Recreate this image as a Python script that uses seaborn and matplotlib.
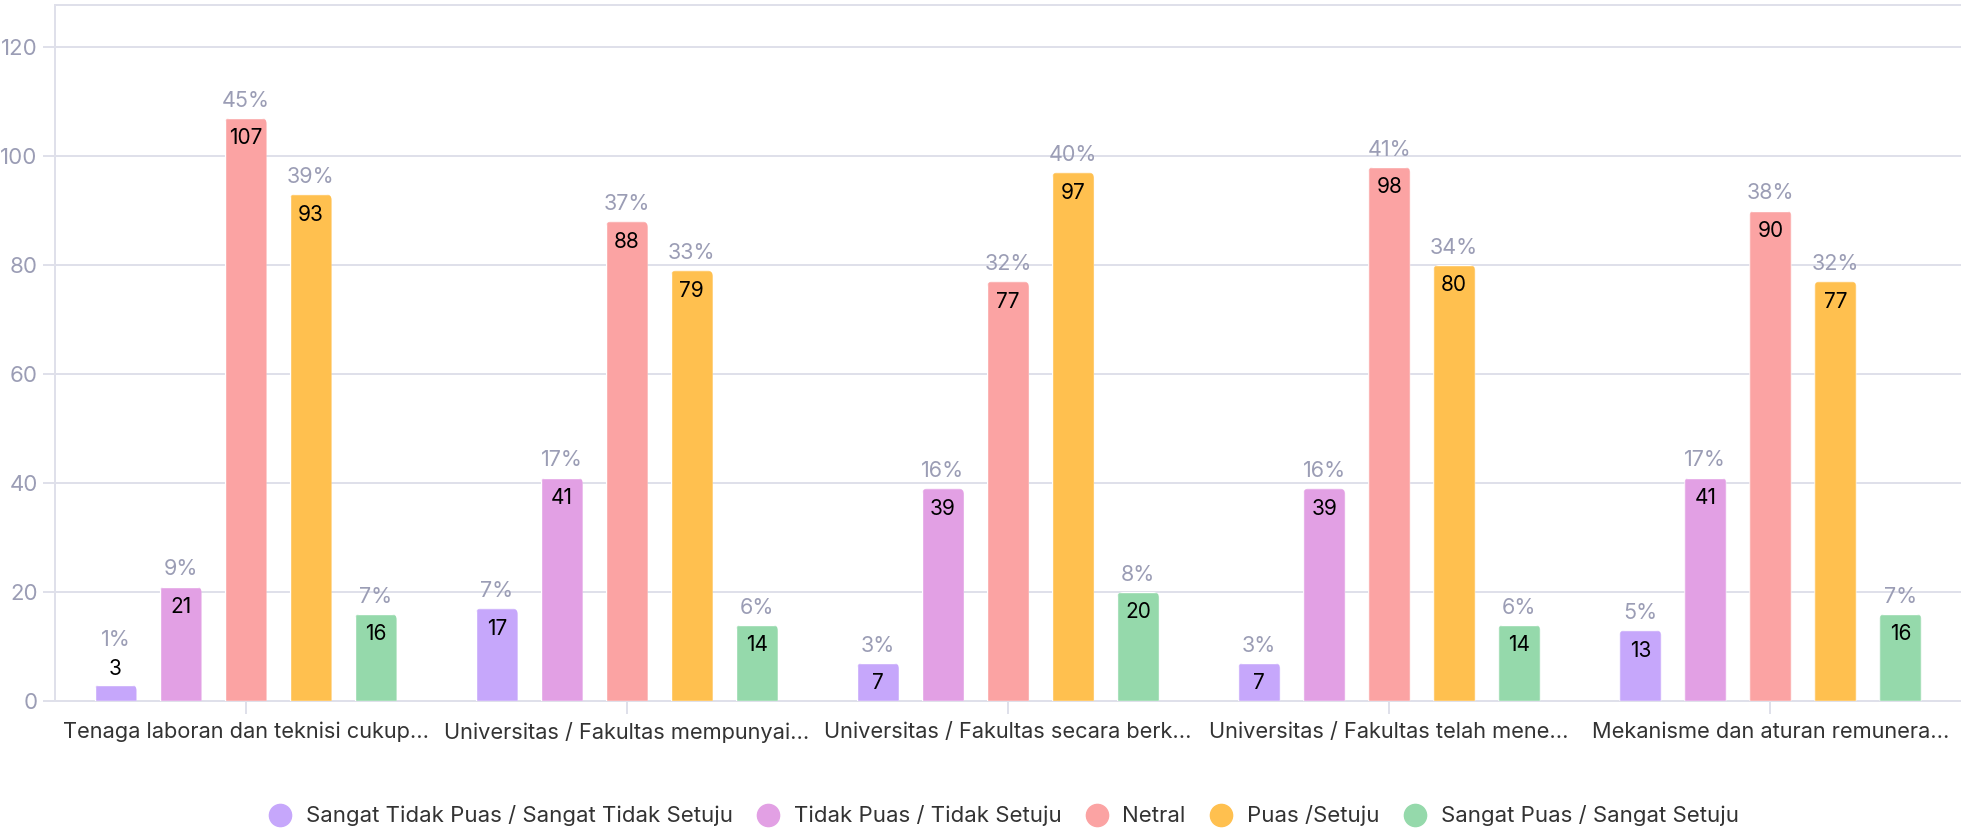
import matplotlib
matplotlib.use("Agg")
import matplotlib.pyplot as plt
from matplotlib.patches import FancyBboxPatch
from matplotlib.lines import Line2D
import seaborn as sns
import pandas as pd

categories = [
    "Tenaga laboran dan teknisi cukup...",
    "Universitas / Fakultas mempunyai...",
    "Universitas / Fakultas secara berk...",
    "Universitas / Fakultas telah mene...",
    "Mekanisme dan aturan remunera...",
]
responses = [
    "Sangat Tidak Puas / Sangat Tidak Setuju",
    "Tidak Puas / Tidak Setuju",
    "Netral",
    "Puas /Setuju",
    "Sangat Puas / Sangat Setuju",
]
sangat_tidak_puas = [3, 17, 7, 7, 13]
tidak_puas = [21, 41, 39, 39, 41]
netral = [107, 88, 77, 98, 90]
puas = [93, 79, 97, 80, 77]
sangat_puas = [16, 14, 20, 14, 16]

pct_sangat_tidak_puas = ["1%", "7%", "3%", "3%", "5%"]
pct_tidak_puas = ["9%", "17%", "16%", "16%", "17%"]
pct_netral = ["45%", "37%", "32%", "41%", "38%"]
pct_puas = ["39%", "33%", "40%", "34%", "32%"]
pct_sangat_puas = ["7%", "6%", "8%", "6%", "7%"]

colors = ["#c6a7fb", "#e2a0e4", "#fba3a3", "#ffc04f", "#95d9ab"]

series = [sangat_tidak_puas, tidak_puas, netral, puas, sangat_puas]
pcts = [pct_sangat_tidak_puas, pct_tidak_puas, pct_netral, pct_puas, pct_sangat_puas]

rows = []
for r, vals in zip(responses, series):
    for c, v in zip(categories, vals):
        rows.append({"cat": c, "resp": r, "count": v})
df = pd.DataFrame(rows)

sns.set_theme(style="white")
plt.rcParams["font.family"] = ["Inter", "DejaVu Sans"]

GRID = "#dfe0ea"
TICKC = "#9b9db5"

fig = plt.figure(figsize=(19.61, 8.33), dpi=100)
ax = fig.add_axes([55 / 1961, 1 - 701 / 833, 1 - 55 / 1961, (701 - 4.5) / 833])

sns.barplot(data=df, x="cat", y="count", hue="resp", hue_order=responses,
            order=categories, palette=colors, width=0.853, gap=0.354,
            saturation=1, legend=False, ax=ax, zorder=3)

ax.set_xlim(-0.5, 4.5)
ax.set_ylim(0, 127.8)
ax.set_yticks([0, 20, 40, 60, 80, 100, 120])
ax.set_xlabel("")
ax.set_ylabel("")

ax.grid(axis="y", color=GRID, lw=1.4, zorder=0)
ax.grid(axis="x", visible=False)
for s in ["left", "top", "bottom"]:
    ax.spines[s].set_color(GRID)
    ax.spines[s].set_linewidth(1.4)
ax.spines["right"].set_visible(False)

ax.tick_params(axis="y", colors=GRID, labelcolor=TICKC, labelsize=16,
               length=9, width=1.4, pad=3.5, left=True)
ax.tick_params(axis="x", colors=GRID, labelcolor="#333333", labelsize=15.7,
               length=9, width=1.4, pad=6, bottom=True)

# rounded top corners
px_x = 1 / 381.25
px_y = 127.8 / 696.5
r = 6 * px_x
asp = px_y / px_x
for bar in ax.patches:
    x, y = bar.get_x(), bar.get_y()
    w, h = bar.get_width(), bar.get_height()
    clip = FancyBboxPatch((x, y - 5), w, h + 5,
                          boxstyle=f"round,pad=0,rounding_size={r}",
                          mutation_aspect=asp, transform=ax.transData,
                          facecolor="none", edgecolor="none")
    bar.set_clip_path(clip)

# labels
for cont, vals, pc in zip(ax.containers, series, pcts):
    for bar, v, p in zip(cont, vals, pc):
        cx = bar.get_x() + bar.get_width() / 2
        h = bar.get_height()
        if v >= 5:
            ax.annotate(str(v), (cx, h), xytext=(0, -19), textcoords="offset points",
                        ha="center", va="baseline", fontsize=15, color="black", zorder=5)
            ax.annotate(p, (cx, h), xytext=(0, 8), textcoords="offset points",
                        ha="center", va="baseline", fontsize=15.5, color=TICKC, zorder=5)
        else:
            ax.annotate(str(v), (cx, h), xytext=(0, 7), textcoords="offset points",
                        ha="center", va="baseline", fontsize=15, color="black", zorder=5)
            ax.annotate(p, (cx, h), xytext=(0, 28), textcoords="offset points",
                        ha="center", va="baseline", fontsize=15.5, color=TICKC, zorder=5)

handles = [Line2D([], [], marker="o", ls="", markersize=16, color=c) for c in colors]
fig.legend(handles, responses, loc="center", bbox_to_anchor=(0.509, 1 - 816 / 833),
           ncol=5, frameon=False, fontsize=16, handletextpad=0.15,
           columnspacing=0.6, labelcolor="#333333")

fig.savefig("out.png", dpi=100)
